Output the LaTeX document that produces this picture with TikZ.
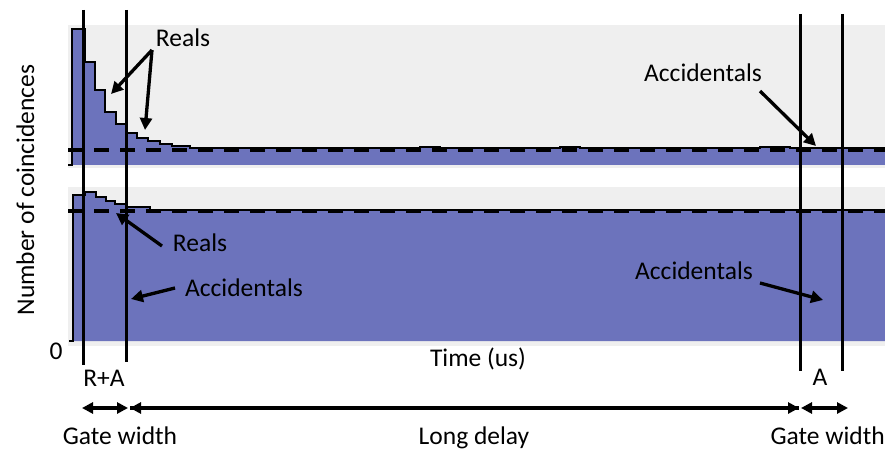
\documentclass[tikz,border=0pt]{standalone}
\usepackage{fontspec}
\setmainfont{Carlito}
\usetikzlibrary{arrows.meta}
\definecolor{panelgray}{RGB}{239,239,239}
\definecolor{histblue}{RGB}{108,115,188}
\tikzset{
  lbl/.style={font=\fontsize{25.5}{30}\selectfont, inner sep=0pt, anchor=base},
  vline/.style={line width=3pt},
  outline/.style={line width=1.6pt},
  base/.style={dash pattern=on 15pt off 11pt, line width=3.8pt},
  pointer/.style={line width=3.3pt, -{Triangle[length=12pt,width=12pt]}},
  span/.style={line width=3.3pt, {Triangle[length=11pt,width=11pt]}-{Triangle[length=11pt,width=11pt]}},
  onehead/.style={line width=3.3pt, -{Triangle[length=11pt,width=11pt]}},
}
\begin{document}
\begin{tikzpicture}[x=1pt,y=-1pt]
\useasboundingbox (0,0) rectangle (885,449);
% panels
\fill[panelgray] (68,25) rectangle (885,168);
\fill[panelgray] (68,187) rectangle (885,346);
% top histogram
\fill[histblue] (72,165) -- (72,29) -- (85,29) -- (85,62) -- (95,62) -- (95,90) -- (105,90) -- (105,112)
  -- (116,112) -- (116,124) -- (126,124) -- (126,133) -- (137,133) -- (137,138) -- (148,138)
  -- (148,141) -- (160,141) -- (160,144) -- (172,144) -- (172,146) -- (190,146) -- (190,148)
  -- (885,148) -- (885,165) -- cycle;
\draw[outline] (68,165) -- (72,165) -- (72,29) -- (85,29) -- (85,62) -- (95,62) -- (95,90) -- (105,90) -- (105,112)
  -- (116,112) -- (116,124) -- (126,124) -- (126,133) -- (137,133) -- (137,138) -- (148,138)
  -- (148,141) -- (160,141) -- (160,144) -- (172,144) -- (172,146) -- (190,146) -- (190,148)
  -- (420,148) -- (420,147) -- (440,147) -- (440,148) -- (560,148) -- (560,147) -- (580,147) -- (580,148)
  -- (760,148) -- (760,147) -- (790,147) -- (790,148) -- (885,148);
\draw[base] (68,150) -- (885,150);
% bottom histogram
\fill[histblue] (73,341) -- (73,195) -- (85,195) -- (85,192) -- (96,192) -- (96,197) -- (106,197)
  -- (106,201) -- (115,201) -- (115,204) -- (126,204) -- (126,207) -- (150,207) -- (150,210)
  -- (885,210) -- (885,341) -- cycle;
\draw[outline] (69,341) -- (73,341) -- (73,195) -- (85,195) -- (85,192) -- (96,192) -- (96,197) -- (106,197)
  -- (106,201) -- (115,201) -- (115,204) -- (126,204) -- (126,207) -- (150,207) -- (150,210)
  -- (885,210);
\draw[base] (68,211) -- (885,211);
% vertical gate lines
\draw[vline] (83,10) -- (83,365);
\draw[vline] (126,10) -- (126,362);
\draw[vline] (800,14) -- (800,371);
\draw[vline] (842,14) -- (842,371);
% labels
\node[lbl, rotate=90] (ylab) at (34,190) {Number of coincidences};
\node[lbl] (zero) at (56,359) {0};
\node[lbl] (time) at (478,366) {Time (us)};
\node[lbl] (ra) at (104,386) {R+A};
\node[lbl] (a) at (820,385) {A};
\node[lbl] (gw1) at (120,444) {Gate width};
\node[lbl] (ld) at (474,444) {Long delay};
\node[lbl, anchor=base east] (gw2) at (885,444) {Gate width};
\node[lbl] (realsT) at (183,47) {Reals};
\node[lbl] (accT) at (703,82) {Accidentals};
\node[lbl] (realsB) at (200,251) {Reals};
\node[lbl] (accB1) at (244,296) {Accidentals};
\node[lbl] (accB2) at (694,279) {Accidentals};
% pointer arrows
\coordinate (rt0) at (152,50);
\coordinate (rt1) at (111,94);
\coordinate (rt2) at (145,130);
\draw[pointer] (rt0) -- (rt1);
\draw[pointer] (rt0) -- (rt2);
\coordinate (at0) at (760,91);
\coordinate (at1) at (816,146);
\draw[pointer] (at0) -- (at1);
\coordinate (rb0) at (162,246);
\coordinate (rb1) at (116,213);
\draw[pointer] (rb0) -- (rb1);
\coordinate (ab0) at (175,288);
\coordinate (ab1) at (131,299);
\draw[pointer] (ab0) -- (ab1);
\coordinate (ac0) at (760,283);
\coordinate (ac1) at (823,300);
\draw[pointer] (ac0) -- (ac1);
% spans
\coordinate (s0) at (82,408);
\coordinate (s1) at (128,408);
\coordinate (s2) at (130,408);
\coordinate (s3) at (799,408);
\coordinate (s4) at (801,408);
\coordinate (s5) at (848,408);
\draw[span] (s0) -- (s1);
\draw[onehead] (s3) -- (s2);
\draw[onehead] (s2) -- (s3);
\draw[span] (s4) -- (s5);
\end{tikzpicture}
\end{document}
